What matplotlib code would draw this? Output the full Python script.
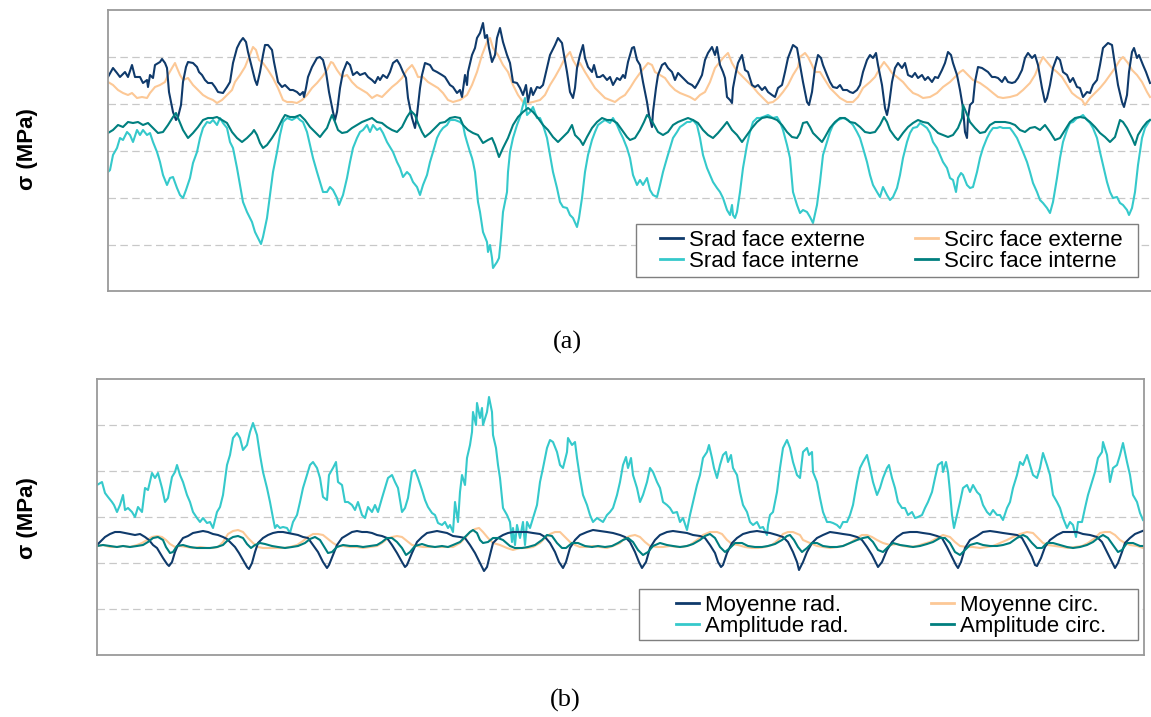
import matplotlib
matplotlib.use("Agg")
import matplotlib.pyplot as plt
from matplotlib.patches import Rectangle

# ---------------- data (panel a) : (position, sigma) ----------------
SRAD_EXT = [(0,74),(5,83),(9,78),(12,74),(17,79),(20,74),(24,86),(27,74),(32,74),(35,68),(39,71),(40,64),(42,76),(45,73),(47,86),(52,89),(54,92),(57,88),(59,83),(61,59),(65,39),(68,31),(70,34),(73,46),(75,69),(78,84),(80,89),(85,88),(89,84),(91,79),(94,76),(97,71),(100,68),(104,68),(107,64),(110,59),(115,58),(119,64),(122,69),(125,88),(129,103),(132,109),(135,113),(138,109),(140,99),(144,83),(147,71),(149,66),(152,79),(155,96),(157,106),(160,106),(164,101),(166,89),(168,79),(170,69),(174,64),(177,66),(182,61),(185,61),(189,59),(192,56),(195,59),(196,54),(198,63),(200,74),(204,84),(209,93),(212,94),(215,91),(218,79),(221,59),(225,39),(227,31),(229,39),(232,63),(235,79),(239,89),(242,86),(245,76),(249,79),(252,76),(257,78),(260,74),(264,71),(267,68),(270,74),(272,71),(275,76),(279,73),(282,79),(285,88),(289,91),(292,86),(295,79),(298,73),(300,53),(304,33),(307,23),(309,36),(312,63),(314,76),(317,88),(322,86),(325,81),(329,79),(334,76),(337,74),(342,66),(345,64),(349,58),(352,61),
            (354,54),(357,76),(359,66),(360,79),(364,96),(367,103),(369,113),(372,118),(375,128),(377,113),(379,116),(381,103),(384,89),(387,96),(389,113),(392,123),(395,109),(399,96),(402,88),(405,69),(409,68),(412,63),(415,56),(418,66),(420,49),(423,63),(425,56),(429,64),(432,63),(435,66),(439,83),(442,96),(447,106),(450,113),(454,108),(456,96),(459,79),(462,59),(465,53),(467,63),(469,83),(472,96),(475,106),(477,93),(480,84),(484,79),(486,86),(489,74),(492,74),(495,76),(499,71),(502,74),(505,66),(509,73),(512,71),(515,76),(517,73),(520,89),(524,103),(526,104),(529,91),(532,86),(535,69),(539,49),(541,36),(544,24),(545,39),(548,63),(550,76),(554,86),(557,88),(560,83),(564,79),(567,71),(570,78),(574,74),(577,71),(580,68),(584,66),(587,63),(590,68),(594,76),(597,91),(600,98),(604,104),(607,96),(609,104),(612,86),(615,79),(617,73),(619,54),(622,51),(624,48),(625,63),(628,79),(630,88),(634,96),(637,81),(640,79),(644,66),(647,64),(650,66),(654,61),(657,64),(660,59),(664,56),(667,54),(670,63),(674,66),(677,79),(680,93),(685,106),(689,103),(692,86),
            (695,69),(699,49),(701,46),(704,59),(707,83),(710,96),(713,93),(715,86),(719,76),(722,69),(725,64),(729,63),(732,66),(735,61),(739,61),(742,59),(745,58),(749,61),(752,66),(755,79),(759,91),(762,96),(765,93),(768,98),(770,86),(774,66),(777,43),(779,36),(781,46),(784,69),(787,83),(790,88),(794,83),(797,88),(800,76),(804,74),(807,78),(810,73),(814,76),(817,71),(820,74),(824,69),(827,74),(830,73),(834,81),(837,88),(840,99),(843,96),(845,88),(849,76),(852,61),(855,43),(857,19),(859,13),(860,33),(862,46),(865,49),(867,69),(870,84),(874,83),(877,81),(880,79),(884,74),(887,74),(890,73),(894,69),(897,74),(900,69),(904,68),(907,69),(910,73),(914,81),(917,93),(920,98),(924,93),(927,96),(930,86),(934,63),(937,49),(939,53),(942,66),(945,83),(949,94),(952,91),(955,79),(959,76),(962,69),(965,73),(969,64),(972,63),(975,54),(979,59),(982,58),(985,66),(989,71),(992,86),(995,103),(998,106),(1000,108),(1004,106),(1007,86),(1010,66),(1014,49),(1016,44),(1019,56),(1021,79),(1024,99),(1026,103),(1029,93),(1031,96),(1035,86),(1038,79),(1042,68)]

SCIRC_EXT = [(0,69),(5,66),(10,61),(15,58),(20,56),(24,58),(29,53),(34,54),(39,53),(42,58),(47,64),(52,66),(57,69),(60,76),(64,83),(67,88),(69,83),(72,76),(75,71),(80,73),(85,66),(90,61),(95,56),(100,53),(105,51),(109,48),(114,51),(119,56),(124,61),(127,69),(132,76),(137,84),(141,94),(145,104),(148,101),(151,91),(155,88),(160,81),(165,73),(170,63),(175,51),(179,49),(184,49),(189,48),(194,51),(199,56),(204,63),(209,68),(214,74),(219,81),(223,89),(225,88),(229,81),(234,74),(239,76),(244,69),(249,64),(254,61),(259,58),(264,53),(269,56),(274,54),(279,59),(284,64),(289,68),(294,73),(299,81),(304,86),(307,81),(310,74),(315,74),(320,69),(325,66),(330,63),(335,58),(340,51),(345,49),(352,51),
             (359,56),(364,66),(369,79),(374,96),(379,109),(382,113),(385,103),(390,96),(395,86),(400,79),(405,66),(410,56),(415,49),(420,48),(425,49),(432,51),(437,56),(442,66),(447,74),(452,83),(457,93),(462,99),(465,91),(469,84),(472,88),(477,79),(482,71),(487,63),(492,58),(497,53),(502,51),(507,49),(512,53),(517,56),(522,63),(527,71),(532,78),(536,83),(540,88),(544,86),(547,79),(552,76),(557,73),(562,66),(567,61),(572,58),(577,56),(582,54),(587,51),(592,56),(597,59),(602,69),(607,83),(611,88),(615,93),(620,98),(624,88),(627,83),(630,79),(635,74),(640,69),(645,64),(650,58),(655,53),(660,48),(665,49),(670,53),(675,59),(680,66),(685,76),(690,84),
             (692,94),(697,98),(700,94),(704,86),(707,79),(712,79),(717,71),(722,63),(727,58),(732,53),(739,49),(745,49),(750,54),(755,63),(762,69),(767,74),(772,83),(776,89),(780,84),(784,78),(789,74),(795,69),(800,63),(805,58),(810,56),(815,53),(822,54),(829,58),(835,64),(842,69),(847,74),(852,79),(855,81),(860,76),(865,71),(872,68),(879,63),(885,58),(890,54),(895,53),(902,54),(909,56),(915,61),(922,68),(927,76),(932,88),(935,94),(939,89),(944,83),(949,79),(954,74),(959,66),(964,58),(969,54),(974,51),(977,46),(982,53),(987,58),(992,63),(997,69),(1002,76),(1007,83),(1012,91),(1015,94),(1020,88),(1024,81),(1029,76),(1034,69),(1039,59),(1042,54)]

SRAD_INT = [(0,-21),(2,-19),(5,-4),(9,3),(12,13),(15,11),(19,19),(22,16),(25,9),(29,21),(32,16),(35,21),(39,16),(42,18),(45,9),(49,-1),(52,-11),(55,-24),(59,-34),(62,-27),(65,-26),(69,-37),(72,-44),(75,-47),(78,-39),(82,-27),(85,-12),(89,-1),(92,13),(95,23),(99,29),(102,28),(105,31),(109,26),(112,33),(115,28),(119,23),(122,9),(125,3),(129,-17),(132,-34),(135,-51),(139,-61),(144,-71),(147,-81),(150,-87),(153,-93),(155,-86),(159,-67),(162,-44),(165,-21),(169,-1),(172,16),(175,29),(179,33),(184,31),(189,34),(192,31),(195,29),(199,19),(202,6),(205,-7),(209,-21),(212,-31),(215,-41),(219,-41),(222,-36),(225,-39),(229,-47),(231,-54),(235,-44),(239,-27),(242,-11),(245,3),(249,13),(252,19),(255,21),(259,26),(262,19),(265,26),(269,21),(272,23),(275,18),(279,9),(282,4),(285,-1),(289,-11),(292,-17),(295,-26),(299,-21),(302,-24),(305,-31),(309,-36),(312,-44),(315,-34),(319,-24),(322,-11),(325,-1),(329,13),(332,19),(335,23),(339,26),(342,31),(347,31),(352,29),
            (355,26),(357,16),(359,9),(362,-1),(364,-7),(365,-11),(367,-21),(369,-41),(370,-51),(372,-61),(374,-74),(375,-81),(379,-91),(380,-101),(382,-94),(384,-107),(385,-117),(389,-111),(391,-107),(393,-87),(395,-61),(399,-41),(400,-21),(402,-1),(405,13),(409,26),(412,34),(415,46),(417,53),(419,36),(422,39),(425,44),(429,33),(432,33),(435,26),(439,13),(442,-4),(445,-21),(449,-37),(452,-51),(455,-56),(459,-57),(462,-64),(465,-67),(469,-76),(471,-67),(474,-47),(477,-21),(480,-4),(484,11),(487,19),(490,26),(494,29),(497,31),(502,28),(505,33),(509,26),(512,19),(515,13),(519,3),(522,-7),(525,-24),(529,-34),(532,-29),(535,-34),(539,-27),(542,-39),(545,-44),(549,-46),(552,-34),(555,-21),(559,-7),(562,3),(565,13),(569,19),(572,24),(575,26),(579,29),(582,29),(585,31),(589,26),(592,13),(595,-4),(599,-17),(602,-24),(605,-31),(609,-37),(612,-41),(615,-47),(619,-59),(622,-64),(624,-54),(625,-64),(627,-67),(629,-61),(632,-41),(635,-17),(639,6),(642,19),(645,29),(649,33),(652,33),(655,34),(660,36),(665,33),(669,34),(672,29),(675,21),(679,6),(682,-7),(685,-41),(689,-54),(692,-62),
            (695,-59),(699,-61),(702,-66),(705,-72),(709,-54),(712,-31),(715,-4),(719,9),(722,19),(725,26),(730,31),(735,33),(740,31),(745,26),(749,19),(752,13),(755,3),(759,-11),(762,-24),(765,-34),(769,-41),(772,-46),(775,-36),(779,-44),(782,-49),(785,-46),(789,-37),(792,-24),(795,-7),(799,9),(802,18),(805,23),(809,24),(812,28),(815,26),(819,23),(822,18),(825,9),(829,3),(832,-4),(835,-11),(839,-17),(842,-27),(845,-29),(848,-41),(850,-27),(853,-22),(855,-24),(859,-34),(862,-37),(865,-36),(869,-21),(872,-7),(875,3),(879,13),(882,19),(885,23),(889,23),(892,24),(895,23),(902,23),(905,19),(909,13),(912,6),(915,-1),(919,-11),(922,-21),(925,-32),(929,-41),(932,-49),(935,-52),(939,-57),(942,-62),(945,-51),(949,-27),(952,-7),(955,9),(959,21),(962,28),(965,29),(969,33),(972,34),(975,36),(979,31),(982,28),(985,23),(989,13),(992,-1),(995,-14),(999,-31),(1002,-41),(1005,-47),(1009,-46),(1012,-52),(1015,-54),(1019,-59),(1021,-64),(1024,-57),(1027,-41),(1030,-14),(1034,13),(1037,23),(1042,31)]

SCIRC_INT = [(0,18),(5,21),(10,26),(15,24),(20,29),(25,28),(30,29),(35,26),(40,28),(45,23),(50,18),(55,19),(60,26),(65,34),(68,38),(70,33),(75,21),(80,13),(85,18),(90,24),(95,31),(100,33),(105,33),(109,34),(114,31),(119,28),(124,19),(129,13),(134,9),(139,13),(144,18),(146,21),(149,16),(152,8),(155,3),(159,6),(164,13),(169,21),(174,31),(177,36),(182,34),(187,34),(192,36),(197,31),(202,24),(207,19),(212,14),(215,18),(219,23),(222,31),(224,36),(227,29),(230,21),(234,18),(239,19),(244,23),(249,26),(254,29),(259,31),(264,33),(269,29),(274,28),(279,24),(284,21),(289,19),(294,24),(299,34),(303,40),(307,36),(310,28),(314,19),(317,14),(322,18),(327,23),(332,28),(337,29),(342,33),(347,34),(352,33),
             (355,26),(360,21),(365,18),(370,16),(375,8),(380,11),(384,13),(387,6),(391,-6),(395,3),(400,13),(405,26),(410,34),(415,39),(420,43),(425,39),(430,33),(435,26),(440,21),(445,14),(450,9),(455,14),(460,19),(464,26),(467,16),(472,11),(475,6),(479,14),(484,23),(489,29),(494,33),(499,31),(504,31),(509,28),(514,21),(519,14),(522,11),(527,13),(532,21),(536,29),(539,36),(541,34),(545,28),(550,19),(555,16),(560,19),(565,26),(570,29),(575,31),(580,33),(585,31),(590,28),(595,21),(600,16),(605,13),(610,18),(615,24),(619,29),(624,21),(629,16),(634,9),(639,16),(644,23),(649,29),(654,33),(659,34),(664,33),(669,31),(674,26),(679,19),(684,14),(689,13),(692,18),
             (695,28),(699,29),(702,24),(705,18),(710,13),(714,9),(717,14),(722,23),(727,29),(732,33),(737,33),(742,29),(747,28),(752,24),(757,19),(762,18),(767,19),(772,26),(776,34),(779,29),(782,21),(787,14),(790,11),(795,18),(800,24),(805,28),(810,31),(815,29),(820,28),(825,23),(830,18),(835,16),(840,14),(845,16),(850,23),(854,33),(855,46),(858,39),(862,29),(867,23),(872,18),(877,19),(882,26),(887,29),(892,29),(897,29),(902,28),(907,26),(912,21),(917,19),(922,23),(927,24),(932,21),(937,26),(942,19),(947,11),(952,13),(957,21),(962,29),(967,33),(972,34),(977,33),(982,29),(987,24),(992,18),(997,14),(1002,9),(1007,14),(1012,31),(1015,29),(1019,23),(1024,13),(1027,6),(1030,16),(1035,24),(1039,29),(1042,31)]

# ---------------- data (panel b) ----------------
MOY_RAD = [(0,-28),(5,-23),(8,-20),(13,-17),(18,-15),(23,-15),(28,-16),(33,-17),(38,-18),(43,-17),(48,-20),(52,-23),(56,-28),(60,-31),(63,-36),(66,-41),(70,-47),(72,-49),(75,-45),(78,-35),(81,-28),(86,-21),(91,-19),(96,-16),(101,-15),(106,-14),(111,-15),(116,-17),(121,-18),(126,-20),(130,-22),(133,-25),(138,-30),(142,-36),(146,-43),(150,-50),(152,-52),(155,-46),(158,-35),(161,-26),(166,-21),(171,-18),(176,-16),(181,-15),(186,-15),(191,-16),(196,-17),(201,-18),(206,-20),(211,-21),(216,-28),(221,-35),(226,-45),(230,-51),(232,-48),(236,-38),(240,-28),(245,-21),(250,-18),(255,-15),(260,-14),(265,-15),(270,-15),(275,-16),(280,-18),(285,-19),(290,-21),(295,-28),(300,-36),(305,-45),(308,-50),(310,-48),(315,-36),(320,-25),(325,-20),(330,-16),(335,-15),(340,-14),(345,-15),(350,-16),
           (356,-19),(363,-20),(368,-21),(373,-28),(378,-36),(383,-46),(387,-54),(390,-50),(393,-38),(396,-26),(401,-21),(406,-18),(411,-16),(416,-15),(423,-15),(430,-15),(436,-16),(443,-17),(448,-20),(453,-26),(458,-35),(462,-45),(466,-51),(469,-45),(473,-31),(478,-23),(483,-18),(490,-15),(496,-13),(503,-14),(510,-15),(516,-16),(523,-18),(528,-20),(533,-25),(538,-35),(542,-45),(545,-51),(549,-45),(553,-31),(558,-23),(563,-18),(570,-15),(576,-14),(583,-15),(590,-16),(596,-18),(603,-19),(608,-21),(613,-28),(618,-36),(621,-45),(624,-50),(626,-48),(630,-36),(635,-26),(640,-21),(646,-17),(653,-15),(660,-14),(666,-15),(673,-16),(680,-18),(686,-20),(691,-25),(696,-35),(700,-45),(702,-53),
           (706,-45),(710,-35),(715,-26),(720,-21),(726,-18),(733,-15),(740,-16),(746,-17),(753,-18),(760,-20),(765,-23),(770,-30),(775,-38),(779,-46),(781,-50),(785,-45),(790,-33),(795,-25),(800,-20),(806,-16),(813,-15),(820,-15),(826,-16),(833,-17),(840,-19),(845,-21),(850,-30),(855,-40),(859,-48),(861,-51),(864,-45),(868,-31),(873,-23),(880,-19),(886,-15),(893,-14),(900,-15),(906,-16),(913,-17),(920,-18),(925,-21),(930,-30),(935,-40),(938,-48),(940,-49),(944,-41),(948,-30),(953,-23),(960,-18),(966,-15),(973,-15),(980,-15),(986,-17),(993,-18),(1000,-20),(1005,-25),(1010,-35),(1015,-45),(1018,-51),(1021,-46),(1025,-35),(1028,-26),(1033,-21),(1038,-17),(1043,-15),(1048,-13)]

MOY_CIRC = [(0,-29),(6,-28),(13,-30),(20,-30),(26,-29),(33,-30),(40,-28),(45,-26),(50,-23),(55,-20),(60,-19),(65,-20),(69,-23),(73,-27),(78,-30),(83,-29),(90,-30),(96,-31),(103,-30),(110,-31),(116,-31),(121,-30),(126,-25),(131,-17),(136,-14),(141,-13),(146,-15),(151,-21),(156,-26),(161,-30),(166,-31),(173,-31),(180,-31),(186,-31),(193,-30),(200,-28),(206,-24),(211,-20),(216,-17),(221,-17),(226,-18),(231,-22),(236,-26),(241,-29),(246,-29),(253,-30),(260,-30),(266,-31),(273,-30),(280,-29),(285,-26),(290,-22),(295,-20),(300,-19),(305,-20),(310,-24),(315,-28),(320,-29),(326,-30),(333,-30),(340,-30),(346,-30),(353,-30),
            (356,-30),(363,-26),(368,-21),(373,-15),(378,-12),(382,-11),(386,-15),(391,-21),(396,-26),(403,-28),(410,-31),(416,-33),(423,-31),(430,-31),(436,-30),(443,-26),(448,-21),(453,-17),(458,-15),(463,-15),(468,-20),(473,-25),(478,-28),(483,-30),(490,-30),(496,-29),(503,-30),(510,-31),(516,-29),(523,-26),(528,-21),(533,-19),(538,-18),(543,-20),(548,-25),(553,-29),(560,-30),(566,-30),(573,-29),(580,-30),(586,-30),(593,-28),(600,-23),(606,-18),(613,-15),(620,-15),(625,-17),(630,-23),(635,-27),(641,-28),(648,-30),(655,-31),(661,-31),(668,-30),(675,-28),(681,-23),(686,-17),(691,-15),(696,-15),(703,-18),
            (706,-23),(713,-26),(720,-29),(726,-30),(733,-31),(740,-30),(746,-29),(753,-26),(760,-21),(765,-18),(770,-18),(775,-20),(780,-23),(786,-26),(793,-28),(800,-27),(806,-29),(813,-30),(820,-29),(826,-27),(833,-25),(840,-21),(846,-18),(853,-20),(858,-25),(863,-29),(870,-30),(876,-30),(883,-31),(890,-30),(896,-29),(903,-26),(910,-23),(916,-20),(923,-17),(930,-15),(936,-16),(941,-21),(946,-26),(951,-28),(958,-29),(965,-30),(971,-31),(978,-30),(985,-29),(991,-26),(998,-21),(1003,-16),(1008,-15),(1013,-15),(1018,-18),(1023,-23),(1028,-26),(1033,-28),(1040,-29),(1046,-31)]

AMP_RAD = [(0,32),(5,35),(8,24),(11,20),(15,15),(17,12),(20,5),(23,12),(26,22),(28,7),(31,9),(35,5),(38,0),(41,10),(45,5),(48,29),(51,27),(55,44),(58,39),(61,44),(65,29),(68,15),(71,19),(75,40),(78,45),(80,52),(83,42),(86,35),(90,22),(93,15),(96,5),(100,-1),(103,-5),(106,-1),(110,-6),(113,-5),(116,-11),(120,5),(123,10),(126,22),(130,52),(133,62),(136,79),(140,84),(143,79),(146,67),(150,72),(153,85),(156,94),(160,82),(163,62),(166,45),(170,29),(173,15),(176,-1),(178,-11),(180,-8),(183,-11),(186,-10),(190,-11),(193,-16),(196,-5),(200,2),(203,15),(206,29),(210,42),(213,52),(216,55),(220,49),(223,39),(226,20),(230,17),(232,42),(236,49),(239,55),(241,35),(245,32),(248,15),(251,15),(255,12),(258,7),(261,15),(265,2),(268,-1),(271,10),(275,5),(278,12),(281,5),(285,19),(288,29),(291,39),(295,42),(298,35),(301,29),(305,5),(308,9),(311,19),(315,45),(318,47),(321,39),(325,27),(328,17),(331,10),(335,4),(338,2),(341,-6),(345,-8),(348,-5),(351,-11),
           (353,-8),(356,-15),(358,15),(361,-5),(363,25),(365,42),(368,32),(370,59),(373,72),(375,85),(376,105),(379,92),(380,114),(383,99),(385,109),(386,92),(390,105),(392,120),(395,105),(396,82),(399,69),(401,52),(403,39),(406,9),(410,2),(413,-5),(415,-25),(416,-11),(418,-28),(420,-8),(423,-21),(426,-5),(428,-28),(430,-5),(433,-11),(436,-1),(440,12),(443,35),(446,49),(450,69),(453,77),(456,75),(460,65),(463,52),(466,49),(470,65),(471,79),(475,72),(478,75),(480,59),(483,39),(486,22),(490,12),(493,2),(496,-5),(500,-1),(503,-3),(506,-5),(510,2),(513,5),(516,9),(520,22),(523,35),(526,52),(529,60),(531,49),(534,59),(536,42),(540,29),(543,15),(546,22),(550,35),(553,49),(556,45),(560,35),(563,29),(566,15),(570,12),(573,9),(576,4),(580,5),(583,-5),(586,-1),(590,-13),(593,2),(596,15),(600,32),(603,42),(606,59),(610,65),(612,72),(615,59),(617,49),(620,39),(623,52),(626,62),(629,65),(631,55),(634,62),(636,49),(640,42),(643,25),(646,12),(650,5),(653,-5),(656,-8),(660,-5),(663,-11),(666,-10),(670,-18),(671,-8),(673,2),(676,5),(680,25),(683,49),(686,69),(690,77),(693,69),(696,55),(700,42),(703,39),
           (706,65),(710,69),(712,62),(715,65),(716,45),(720,35),(723,19),(726,5),(730,-5),(733,-5),(736,-6),(740,-8),(743,-11),(746,-5),(750,-5),(753,2),(756,12),(760,35),(763,49),(766,55),(770,62),(773,49),(776,35),(780,22),(783,29),(786,39),(790,49),(792,52),(795,39),(798,29),(801,15),(805,9),(808,9),(811,2),(815,5),(818,-1),(821,0),(825,2),(828,9),(831,15),(835,25),(838,39),(841,52),(845,55),(846,45),(849,55),(851,45),(853,25),(855,2),(857,-11),(860,2),(863,15),(866,29),(870,32),(873,25),(876,32),(880,25),(883,22),(886,12),(890,5),(893,2),(896,7),(900,2),(903,2),(906,-3),(910,9),(913,15),(916,29),(920,42),(923,55),(926,52),(930,62),(933,52),(936,42),(940,39),(943,49),(946,64),(950,52),(953,42),(956,22),(960,15),(963,9),(966,-1),(970,-11),(973,-5),(976,-8),(979,-20),(981,-5),(985,-5),(988,9),(991,22),(995,35),(998,45),(1001,59),(1005,65),(1006,75),(1010,62),(1013,35),(1016,49),(1020,52),(1023,62),(1026,74),(1030,55),(1033,42),(1036,22),(1040,15),(1043,4),(1046,-3)]

AMP_CIRC = [(0,-29),(6,-28),(13,-29),(20,-30),(26,-29),(33,-30),(40,-29),(46,-28),(51,-25),(56,-21),(61,-20),(66,-23),(69,-30),(73,-36),(76,-35),(80,-29),(86,-28),(93,-30),(100,-31),(106,-31),(113,-31),(120,-30),(126,-28),(131,-23),(136,-20),(141,-19),(146,-21),(150,-27),(154,-31),(158,-28),(163,-26),(168,-27),(175,-29),(181,-30),(188,-31),(195,-30),(201,-29),(208,-26),(213,-22),(218,-20),(223,-23),(228,-31),(231,-36),(235,-35),(240,-30),(246,-28),(253,-29),(260,-29),(266,-30),(273,-29),(280,-28),(285,-25),(290,-21),(295,-21),(300,-25),(305,-31),(309,-38),(313,-35),(318,-29),(325,-27),(331,-29),(338,-30),(345,-29),(351,-30),
            (356,-28),(363,-25),(368,-20),(373,-15),(376,-13),(380,-16),(383,-23),(386,-26),(391,-25),(396,-21),(401,-21),(406,-23),(413,-29),(418,-31),(425,-31),(431,-30),(438,-28),(445,-23),(450,-18),(455,-19),(460,-26),(465,-31),(469,-31),(475,-26),(481,-26),(488,-29),(495,-30),(501,-29),(508,-30),(515,-29),(521,-26),(526,-23),(531,-21),(536,-25),(541,-33),(546,-38),(551,-35),(556,-29),(563,-26),(570,-28),(576,-29),(583,-30),(590,-29),(596,-27),(603,-23),(608,-19),(613,-17),(618,-21),(623,-30),(628,-35),(633,-31),(638,-26),(645,-26),(651,-29),(658,-30),(665,-30),(671,-29),(678,-27),(685,-23),(690,-19),(693,-18),(697,-23),(701,-30),
            (705,-35),(710,-31),(715,-26),(720,-26),(726,-29),(733,-30),(740,-30),(746,-29),(753,-26),(760,-23),(766,-21),(771,-20),(776,-25),(781,-33),(786,-35),(791,-30),(796,-26),(803,-28),(810,-29),(816,-30),(823,-29),(830,-27),(836,-25),(843,-21),(848,-21),(853,-26),(858,-35),(863,-38),(868,-33),(873,-28),(880,-26),(886,-28),(893,-29),(900,-29),(906,-28),(913,-26),(920,-21),(926,-18),(930,-20),(935,-26),(940,-31),(945,-31),(950,-26),(956,-26),(963,-28),(970,-30),(976,-31),(983,-30),(990,-28),(996,-25),(1001,-21),(1006,-18),(1011,-21),(1016,-28),(1021,-35),(1025,-33),(1030,-26),(1036,-26),(1043,-29),(1048,-29)]

LABELS_A = ["Srad face externe", "Scirc face externe", "Srad face interne", "Scirc face interne"]
LABELS_B = ["Moyenne rad.", "Moyenne circ.", "Amplitude rad.", "Amplitude circ."]
Y_LABEL = "σ (MPa)"
CAPTIONS = ["(a)", "(b)"]

NAVY, PEACH, CYAN, TEAL = "#0F3A6B", "#FCC896", "#35C9CB", "#007F7F"

W, H = 1151, 717
fig = plt.figure(figsize=(W / 100, H / 100), dpi=100)
plt.rcParams["font.family"] = ["Liberation Sans", "DejaVu Sans"]


def fx(px):
    return px / W


def fy(py):
    return 1 - py / H


def make_axes(left, top, right, bottom, xmax, ylo, yhi, step):
    ax = fig.add_axes([fx(left), fy(bottom), fx(right - left), (bottom - top) / H])
    ax.set_xlim(0, xmax)
    ax.set_ylim(ylo, yhi)
    ax.set_yticks([step * k for k in (-2, -1, 0, 1, 2)])
    ax.set_xticks([])
    ax.tick_params(axis="y", length=0, labelleft=False)
    ax.grid(axis="y", color="#c8c8c8", lw=0.9, linestyle=(0, (6, 3.5)))
    ax.set_axisbelow(True)
    for s in ax.spines.values():
        s.set_color("#9a9a9a")
        s.set_linewidth(1.3)
    return ax


def draw(ax, series, color):
    xs, ys = zip(*series)
    return ax.plot(xs, ys, color=color, lw=1.5, solid_joinstyle="round")[0]


# ---- panel (a)
ax1 = make_axes(108, 10, 1153, 291, 1045, -140, 141, 47)
l_se = draw(ax1, SCIRC_EXT, PEACH)
l_re = draw(ax1, SRAD_EXT, NAVY)
l_ri = draw(ax1, SRAD_INT, CYAN)
l_si = draw(ax1, SCIRC_INT, TEAL)

# ---- panel (b)
ax2 = make_axes(97, 379, 1144, 655, 1047, -138, 138, 46)
m_c = draw(ax2, MOY_CIRC, PEACH)
a_r = draw(ax2, AMP_RAD, CYAN)
m_r = draw(ax2, MOY_RAD, NAVY)
a_c = draw(ax2, AMP_CIRC, TEAL)


def legend_box(l, t, r, b, handles, labels, cx, cy, colsp):
    fig.add_artist(Rectangle((fx(l), fy(b)), fx(r - l), (b - t) / H, transform=fig.transFigure,
                             facecolor="white", edgecolor="#7f7f7f", lw=1.0, zorder=3))
    leg = fig.legend(handles, labels, loc="center", bbox_to_anchor=(fx(cx), fy(cy)),
                     ncol=2, frameon=False, fontsize=16, handlelength=1.05,
                     handletextpad=0.25, columnspacing=colsp, labelspacing=0.0,
                     borderpad=0.0, borderaxespad=0.0)
    leg.set_zorder(4)
    for h in leg.legend_handles:
        h.set_linewidth(2.0)


legend_box(636, 224, 1138, 277, [l_re, l_ri, l_se, l_si],
           [LABELS_A[0], LABELS_A[2], LABELS_A[1], LABELS_A[3]], 891, 251, 2.25)
legend_box(639, 589, 1138, 640, [m_r, a_r, m_c, a_c],
           [LABELS_B[0], LABELS_B[2], LABELS_B[1], LABELS_B[3]], 891, 616, 3.7)

for yc in (149, 518):
    fig.text(fx(27), fy(yc), Y_LABEL, rotation=90, ha="center", va="center",
             fontsize=16, fontweight="bold")

fig.text(fx(567), fy(342), CAPTIONS[0], ha="center", va="center", fontsize=19,
         family=["Liberation Serif", "DejaVu Serif"])
fig.text(fx(565), fy(700), CAPTIONS[1], ha="center", va="center", fontsize=19,
         family=["Liberation Serif", "DejaVu Serif"])

fig.savefig("out.png", dpi=100)
